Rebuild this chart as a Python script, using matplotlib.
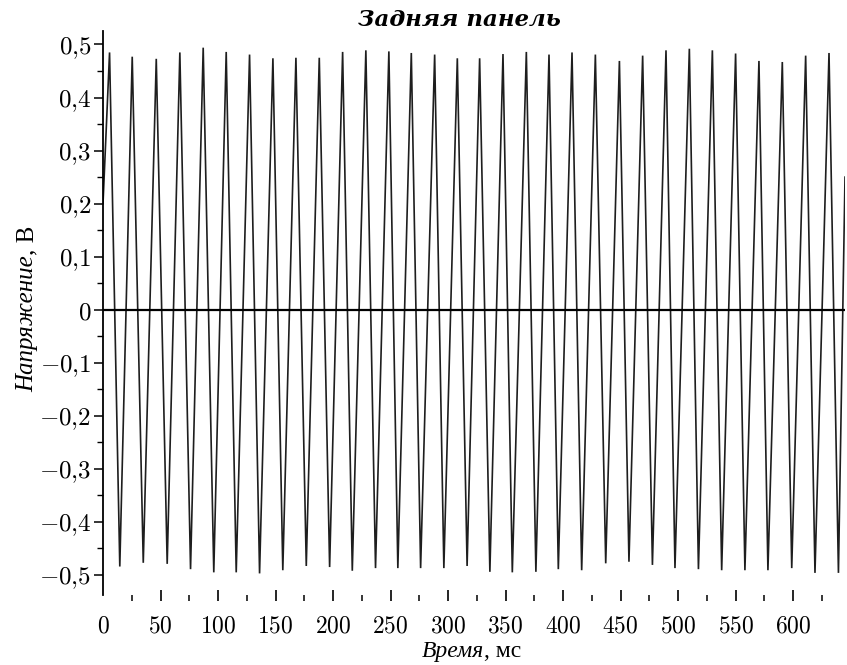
import matplotlib
matplotlib.use("Agg")
import matplotlib.pyplot as plt
from matplotlib.ticker import FixedLocator, FuncFormatter
from matplotlib.transforms import IdentityTransform
import numpy as np

# ---- data ----
start_t, start_v = 0.0, 0.20
end_t, end_v = 645.0, 0.25

peak_t = [5.7, 25.4, 46.3, 66.8, 87.1, 107.1, 127.4, 147.7, 167.7, 188.0,
          208.3, 228.5, 248.5, 268.0, 288.3, 308.0, 327.4, 347.7, 368.0, 387.7,
          407.7, 428.0, 448.9, 469.1, 489.4, 509.7, 529.7, 549.9, 570.2, 590.5,
          610.8, 631.1]
peak_v = [0.485, 0.477, 0.473, 0.485, 0.494, 0.486, 0.481, 0.474, 0.475, 0.475,
          0.486, 0.489, 0.487, 0.484, 0.481, 0.474, 0.474, 0.482, 0.486, 0.481,
          0.485, 0.481, 0.469, 0.479, 0.489, 0.492, 0.489, 0.483, 0.469, 0.467,
          0.479, 0.484]
trough_t = [14.6, 35.0, 55.8, 76.1, 96.3, 115.8, 136.1, 156.3, 176.7, 197.0,
            216.7, 236.9, 256.3, 276.1, 296.3, 316.5, 336.3, 355.8, 376.3, 395.8,
            416.1, 437.0, 457.2, 477.6, 497.2, 517.6, 537.8, 558.0, 578.0, 598.7,
            618.9, 639.3]
trough_v = [-0.484, -0.477, -0.479, -0.489, -0.495, -0.495, -0.497, -0.491, -0.483, -0.485,
            -0.492, -0.487, -0.487, -0.487, -0.487, -0.483, -0.494, -0.495, -0.494, -0.489,
            -0.491, -0.478, -0.475, -0.481, -0.487, -0.489, -0.491, -0.491, -0.491, -0.487,
            -0.496, -0.496]

x_major = [0, 50, 100, 150, 200, 250, 300, 350, 400, 450, 500, 550, 600]
x_minor = [25, 75, 125, 175, 225, 275, 325, 375, 425, 475, 525, 575, 625]
y_major = [-0.5, -0.4, -0.3, -0.2, -0.1, 0.0, 0.1, 0.2, 0.3, 0.4, 0.5]
y_minor = [-0.45, -0.35, -0.25, -0.15, -0.05, 0.05, 0.15, 0.25, 0.35, 0.45]

title_text = "Задняя панель"
ylabel_it, ylabel_rm = "Напряжение", ", В"
xlabel_it, xlabel_rm = "Время", ", мс"

# ---- series assembly ----
t = [start_t]
v = [start_v]
for pt, pv, tt, tv in zip(peak_t, peak_v, trough_t, trough_v):
    t += [pt, tt]
    v += [pv, tv]
t.append(end_t)
v.append(end_v)

plt.rcParams["mathtext.fontset"] = "cm"
W, H = 847, 665
fig = plt.figure(figsize=(W / 100, H / 100), dpi=100)
ax = fig.add_axes([103 / W, 1 - 601 / H, (845 - 103) / W, (601 - 30.7) / H])

ax.plot(t, v, color="#1e1e1e", lw=1.2, solid_joinstyle="miter")
ax.axhline(0, color="black", lw=1.6)

ax.set_xlim(0, 645)
ax.set_ylim(-0.549, 0.526)

for s in ["top", "right", "bottom"]:
    ax.spines[s].set_visible(False)
ax.spines["left"].set_linewidth(1.3)
ax.spines["left"].set_bounds(-0.538, 0.526)

def yfmt(val, pos):
    if abs(val) < 1e-9:
        return r"$0$"
    s = f"{val:.1f}".replace(".", "{,}")
    return "$" + s + "$"

def xfmt(val, pos):
    return "$%d$" % int(round(val))

ax.xaxis.set_major_locator(FixedLocator(x_major))
ax.xaxis.set_minor_locator(FixedLocator(x_minor))
ax.yaxis.set_major_locator(FixedLocator(y_major))
ax.yaxis.set_minor_locator(FixedLocator(y_minor))
ax.yaxis.set_major_formatter(FuncFormatter(yfmt))
ax.xaxis.set_major_formatter(FuncFormatter(xfmt))

ax.tick_params(axis="y", which="major", direction="out", length=6.5, width=1.1,
               labelsize=18, pad=2)
ax.tick_params(axis="y", which="minor", direction="out", length=4.5, width=1.0)
ax.tick_params(axis="x", which="major", direction="in", length=7.7, width=1.2,
               labelsize=17, pad=9)
ax.tick_params(axis="x", which="minor", direction="in", length=4.1, width=1.1)
ax.xaxis.get_major_ticks()[0].tick1line.set_visible(False)

serif = "Liberation Serif"
ident = IdentityTransform()

# title
fig.text(459, H - 26, title_text, transform=ident, ha="center", va="baseline",
         fontsize=16.5, fontweight="bold", fontstyle="italic", family="DejaVu Serif")

renderer = fig.canvas.get_renderer()

# x label
tx1 = fig.text(0, H - 657, xlabel_it, transform=ident, ha="left", va="baseline",
               fontsize=17, fontstyle="italic", family=serif)
tx2 = fig.text(0, H - 657, xlabel_rm, transform=ident, ha="left", va="baseline",
               fontsize=17, family=serif)
w1 = tx1.get_window_extent(renderer).width
w2 = tx2.get_window_extent(renderer).width
x0 = 472 - (w1 + w2) / 2
tx1.set_x(x0)
tx2.set_x(x0 + w1)

# y label
ty1 = fig.text(33, 0, ylabel_it, transform=ident, ha="left", va="baseline",
               rotation=90, rotation_mode="anchor",
               fontsize=18, fontstyle="italic", family=serif)
ty2 = fig.text(33, 0, ylabel_rm, transform=ident, ha="left", va="baseline",
               rotation=90, rotation_mode="anchor", fontsize=18, family=serif)
h1 = ty1.get_window_extent(renderer).height
h2 = ty2.get_window_extent(renderer).height
y0 = (H - 309) - (h1 + h2) / 2
ty1.set_y(y0)
ty2.set_y(y0 + h1)

fig.savefig("out.png", dpi=100)
